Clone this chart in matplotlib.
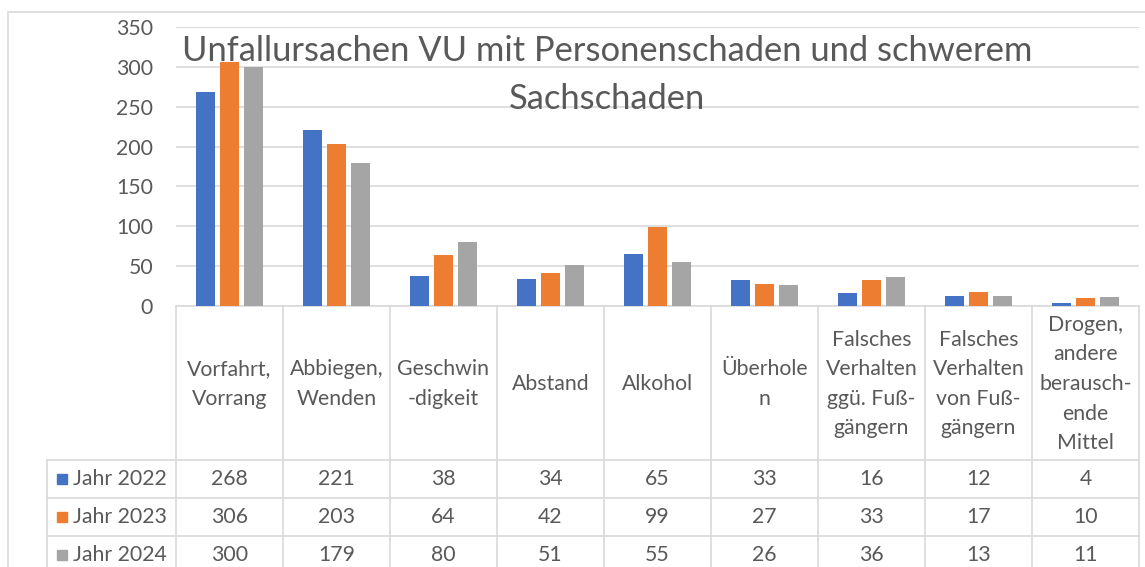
import matplotlib.pyplot as plt
from matplotlib.patches import Rectangle
import numpy as np

plt.rcParams['font.family'] = ['Lato', 'DejaVu Sans']

categories = ["Vorfahrt,\nVorrang", "Abbiegen,\nWenden", "Geschwin\n-digkeit", "Abstand", "Alkohol",
              "Überhole\nn", "Falsches\nVerhalten\nggü. Fuß-\ngängern", "Falsches\nVerhalten\nvon Fuß-\ngängern",
              "Drogen,\nandere\nberausch-\nende\nMittel"]
series = ["Jahr 2022", "Jahr 2023", "Jahr 2024"]
jahr_2022 = [268, 221, 38, 34, 65, 33, 16, 12, 4]
jahr_2023 = [306, 203, 64, 42, 99, 27, 33, 17, 10]
jahr_2024 = [300, 179, 80, 51, 55, 26, 36, 13, 11]
values = [jahr_2022, jahr_2023, jahr_2024]
colors = ["#4472C4", "#ED7D31", "#A5A5A5"]

TEXT = "#595959"
GRID = "#D9D9D9"
W, H = 1145, 567

fig = plt.figure(figsize=(W / 100, H / 100), dpi=100)

# outer chart border
fig.patches.append(Rectangle((8 / W, -0.1), 1.2, (H - 12) / H + 0.1, transform=fig.transFigure,
                             fill=False, edgecolor=GRID, linewidth=1.2))

ax = fig.add_axes([176 / W, (H - 306) / H, 963 / W, 279 / H])
x = np.arange(len(categories))
BAR_W = 0.175
STEP = 0.224
for i, (vals, c, name) in enumerate(zip(values, colors, series)):
    ax.bar(x + (i - 1) * STEP, vals, width=BAR_W, color=c, label=name, zorder=3)

ax.set_xlim(-0.5, len(categories) - 0.5)
ax.set_ylim(0, 350)
ax.set_yticks(range(0, 351, 50))
ax.yaxis.grid(True, color=GRID, linewidth=1.2, zorder=0)
ax.tick_params(axis="y", length=0, pad=16.5, labelsize=15.3, labelcolor=TEXT)
ax.set_xticks([])
for s in ["top", "right", "left"]:
    ax.spines[s].set_visible(False)
ax.spines["bottom"].set_color(GRID)
ax.spines["bottom"].set_linewidth(1.2)

fig.text(607 / W, 1 - 75 / H, "Unfallursachen VU mit Personenschaden und schwerem\nSachschaden",
         ha="center", va="center", fontsize=24.8, color=TEXT, linespacing=1.62)

# data table below the plot
tab = fig.add_axes([176 / W, 0, 963 / W, 261 / H])
tab.set_xlim(-0.5, len(categories) - 0.5)
tab.set_ylim(261, 0)
tab.axis("off")
HEAD = 154
ROW = 38
left_edge = -0.5 - 129 / 107
n = len(categories)
lk = dict(color=GRID, linewidth=1.2, clip_on=False)
for b in np.arange(n + 1) - 0.5:
    tab.plot([b, b], [0, HEAD + 3 * ROW], **lk)
tab.plot([left_edge, left_edge], [HEAD, HEAD + 3 * ROW], **lk)
for r in range(4):
    y = HEAD + r * ROW
    tab.plot([left_edge, n - 0.5], [y, y], **lk)

for j, cat in enumerate(categories):
    tab.text(j, HEAD / 2 + 1, cat, ha="center", va="center", fontsize=15.3, color=TEXT,
             linespacing=1.6)

for r, (vals, c, name) in enumerate(zip(values, colors, series)):
    yc = HEAD + r * ROW + ROW / 2
    tab.plot([left_edge + 0.14], [yc], marker="s", markersize=7.5, color=c, clip_on=False)
    tab.text(left_edge + 0.245, yc, name, ha="left", va="center", fontsize=15.3, color=TEXT)
    for j, v in enumerate(vals):
        tab.text(j, yc, str(v), ha="center", va="center", fontsize=15.3, color=TEXT)

fig.savefig("out.png", dpi=100)
